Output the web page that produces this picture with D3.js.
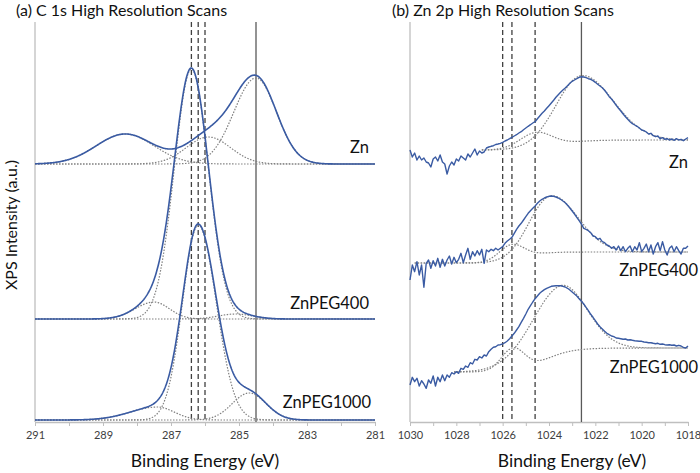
<!DOCTYPE html>
<html><head><meta charset="utf-8">
<script src="https://cdn.jsdelivr.net/npm/d3@7"></script>
<style>body{margin:0;background:#fff}svg text{font-family:Lato,"Open Sans",sans-serif}</style>
</head><body><svg id="c" width="700" height="473"></svg>
<script>
// ---------- Panel (a): C 1s ----------
const c1sNames = ["Zn", "ZnPEG400", "ZnPEG1000"];
const c1sOffsets = [258, 103, 2];
// fitted components: [centre eV, amplitude, sigma (high-BE side), sigma (low-BE side)]
const c1sZn = [[288.35, 30, 0.85, 0.85], [285.9, 27, 0.65, 0.65], [284.5, 86, 0.65, 0.6]];
const c1sPEG400 = [[287.5, 17, 0.55, 0.45], [286.4, 250, 0.5, 0.5], [285.1, 5, 0.5, 0.5]];
const c1sPEG1000 = [[287.4, 13, 0.8, 0.5], [286.2, 195, 0.46, 0.53], [284.7, 27, 0.5, 0.5]];
const c1sTickLabels = [291, 289, 287, 285, 283, 281];
const c1sDashed = [286.4, 286.2, 286.0];
const c1sSolid = [284.5];

// ---------- Panel (b): Zn 2p ----------
const zn2pNames = ["Zn", "ZnPEG400", "ZnPEG1000"];
const zn2pOffsets = [282, 170, 74];
const zn2pStart = 1030.0, zn2pStep = 0.1;
const zn2pZn = [-10,-17,-13,-20,-16,-20,-18,-22,-23,-27,-19,-17,-21,-15,-22,-24,-34,-26,-22,-25,-19,-21,-16,-18,-20,-14,-17,-13,-9,-15,-11,-13,-12,-8,-7,-6.3,-5.7,-4.5,-4,-3.3,-2.3,-1,0,1.3,2.7,4,5.3,7,8.3,10.3,12,13.7,15.3,17,18.3,21.3,24,26.7,29,31.7,34.3,37,39.7,42.7,45.3,47.7,50,52,54.3,56.7,58.7,60,61.3,62.7,63.3,63,62.3,61.3,60.7,59.3,57.7,55.7,54,52.3,49.7,46.7,43.3,41,38,34.7,31.7,29,26,23.3,20.7,18.3,16.3,15,13.7,12,10,9.3,8,6,6.7,4.3,3.3,4,1.3,2.3,0.7,1.3,0,1,-0.3,1.3,0,0.7,-0.7,1,2.3];
const zn2pPEG400 = [-28,-13,-19.7,-9.7,-23,-13,-35.3,-11.3,-8,-16.3,-8.7,-14,-6.3,-15.3,-7.3,-14,-8,-4,-12,-5.3,-10.7,-7.3,-1.3,-10.7,-3,3.7,-7.3,0.3,-4,1.3,-3,2.7,-11.3,2,0.3,2.7,1.3,3.7,2,3.7,5.3,8.7,11,12.7,14.7,18.7,22.7,26,28.7,32,35.3,38.7,41.3,43.7,46,48.7,51,52.7,54,55,55.7,56,55.7,55,54,52.7,51,49.3,46.7,44,41,38,34.7,31.3,28,23.7,22.7,21.3,19.3,16,15.3,12.7,13.7,10.3,9.3,7,6,3.7,5.3,2,6,1.3,5.3,0.3,3.7,6,0.3,5.3,2,9.3,0.3,3.7,8,0.3,7,-2,5.3,9.3,1.3,10.3,2,-3,3.7,6,0.3,5.3,1.3,-2,3.7,3.7,6];
const zn2pPEG1000 = [-37,-29.3,-33.7,-30.3,-38,-32.7,-36,-40.3,-32,-35.3,-28,-38,-29.3,-33.7,-27,-32.7,-27,-29.3,-24.7,-26,-23.7,-25.3,-20.3,-21.3,-18,-19.3,-14.7,-16,-11.3,-12,-8.7,-10,-7,-8,-3.7,-1.3,0.7,1.3,3,3.3,4,5.3,7,9.3,12,14.7,18,21.3,25.7,29.7,34,38.7,42.3,46,49.3,52,54.7,56.7,58.3,59.7,60.7,61.7,62,62.3,62.3,62.3,61.7,61,59.7,58,56,54,52,49.3,46.7,44,40.7,37.3,33.7,30.7,27.3,24,21.3,19,16.7,14.7,13.3,12,11.3,10,9.7,9.3,8.7,9,8,8.3,7.7,7.3,7,6.7,6.7,6,5.7,5.3,5.3,4.7,4.3,4.7,3.7,4,3.3,3,3.3,2.7,3,2,2.7,2,0.7,0,2];
// backgrounds: [high-BE level, low-BE level, step centre eV, step width eV]
const zn2pBackgrounds = [[-10, 0, 1023.6, 0.6], [-11, 0, 1024.9, 0.4], [-24, 0, 1024.2, 0.6]];
// fit windows (eV)
const zn2pFitRange = [[1026.9, 1018], [1029.8, 1018], [1028.1, 1018]];
const zn2pCompZn = [[1024.55, 16, 0.7, 0.7], [1022.6, 66, 1.1, 1.35]];
const zn2pCompPEG400 = [[1025.6, 17, 0.55, 0.55], [1023.9, 57, 0.96, 1.15]];
const zn2pCompPEG1000 = [[1025.55, 22, 0.5, 0.5], [1023.5, 68, 1.3, 1.1]];
const zn2pTickLabels = [1030, 1028, 1026, 1024, 1022, 1020, 1018];
const zn2pDashed = [1026.0, 1025.6, 1024.6];
const zn2pSolid = [1022.6];

// ---------- helpers ----------
const BLUE = "#3a5ba3", DOT = "#808080", AX = "#bfbfbf", TXT = "#404040";
function comp(c, E) { const s = E >= c[0] ? c[2] : c[3]; return c[1] * Math.exp(-((E - c[0]) ** 2) / (2 * s * s)); }
function bgAt(b, E) { return b[1] + (b[0] - b[1]) / (1 + Math.exp(-(E - b[2]) / b[3])); }

const svg = d3.select("#c");
const y = d3.scaleLinear().domain([0, 400]).range([422, 22]);
const xA = d3.scaleLinear().domain([291, 281]).range([35, 375]);
const xB = d3.scaleLinear().domain([1030, 1018]).range([410, 688]);

function axisPanel(x, lo, hi, labels) {
  const ticks = d3.range(hi, lo - 0.5, -1);
  const g = svg.append("g").attr("transform", "translate(0,422)")
    .call(d3.axisBottom(x).tickValues(ticks).tickSize(4).tickSizeOuter(0).tickPadding(5)
      .tickFormat(d => labels.includes(d) ? d : ""));
  g.select(".domain").attr("stroke", AX).attr("stroke-width", 1.3);
  g.selectAll(".tick line").attr("stroke", AX);
  g.selectAll(".tick text").attr("fill", TXT).style("font-size", "11px");
  svg.append("line").attr("x1", x(hi)).attr("x2", x(hi)).attr("y1", 22).attr("y2", 422)
    .attr("stroke", AX).attr("stroke-width", 1.3);
}
function refLines(x, dashed, solid) {
  dashed.forEach(e => svg.append("line").attr("x1", x(e)).attr("x2", x(e)).attr("y1", 22).attr("y2", 422)
    .attr("stroke", "#404040").attr("stroke-width", 1.3).attr("stroke-dasharray", "5,3"));
  solid.forEach(e => svg.append("line").attr("x1", x(e)).attr("x2", x(e)).attr("y1", 22).attr("y2", 422)
    .attr("stroke", "#595959").attr("stroke-width", 1.3));
}

// ---------- Panel (a) ----------
axisPanel(xA, 281, 291, c1sTickLabels);
refLines(xA, c1sDashed, c1sSolid);
const gridA = d3.range(291, 280.99, -0.02);
const lineA = d3.line().x(d => xA(d[0])).y(d => y(d[1]));
[c1sZn, c1sPEG400, c1sPEG1000].forEach((comps, k) => {
  const off = c1sOffsets[k];
  comps.forEach(c => svg.append("path").attr("d", lineA(gridA.map(E => [E, off + comp(c, E)])))
    .attr("fill", "none").attr("stroke", DOT).attr("stroke-width", 1.2).attr("stroke-dasharray", "1.5,1.5"));
});
[c1sZn, c1sPEG400, c1sPEG1000].forEach((comps, k) => {
  const off = c1sOffsets[k];
  svg.append("path").attr("d", lineA(gridA.map(E => [E, off + d3.sum(comps, c => comp(c, E))])))
    .attr("fill", "none").attr("stroke", BLUE).attr("stroke-width", 1.6);
});

// ---------- Panel (b) ----------
axisPanel(xB, 1018, 1030, zn2pTickLabels);
refLines(xB, zn2pDashed, zn2pSolid);
[[zn2pZn, zn2pCompZn], [zn2pPEG400, zn2pCompPEG400], [zn2pPEG1000, zn2pCompPEG1000]].forEach(([raw, comps], k) => {
  const off = zn2pOffsets[k], bg = zn2pBackgrounds[k], fr = zn2pFitRange[k];
  const grid = d3.range(fr[0], fr[1] - 0.001, -0.02);
  const line = d3.line().x(d => xB(d[0])).y(d => y(d[1]));
  comps.forEach(c => svg.append("path").attr("d", line(grid.map(E => [E, off + bgAt(bg, E) + comp(c, E)])))
    .attr("fill", "none").attr("stroke", DOT).attr("stroke-width", 1.2).attr("stroke-dasharray", "1.5,1.5"));
  svg.append("path").attr("d", line(raw.map((v, i) => [zn2pStart - zn2pStep * i, off + v])))
    .attr("fill", "none").attr("stroke", BLUE).attr("stroke-width", 1.4).attr("stroke-linejoin", "round");
});

// ---------- Text ----------
const T = (x, yy, s, size, anchor) => svg.append("text").attr("x", x).attr("y", yy).text(s)
  .attr("fill", "#111").style("font-size", size + "px").attr("text-anchor", anchor || "start");
T(16, 16, "(a) C 1s High Resolution Scans", 16);
T(392, 16, "(b) Zn 2p High Resolution Scans", 16);
T(205, 467, "Binding Energy (eV)", 17.5, "middle");
T(572, 467, "Binding Energy (eV)", 17.5, "middle");
svg.append("text").attr("transform", "translate(17,225) rotate(-90)").attr("text-anchor", "middle")
  .text("XPS Intensity (a.u.)").attr("fill", "#111").style("font-size", "16px");
const labA = [[369, 153], [369, 309], [371, 408]];
c1sNames.forEach((n, k) => T(labA[k][0], labA[k][1], n, 16.5, "end"));
const labB = [[688, 168], [698, 276], [698, 373]];
zn2pNames.forEach((n, k) => T(labB[k][0], labB[k][1], n, 16.5, "end"));
</script></body></html>
